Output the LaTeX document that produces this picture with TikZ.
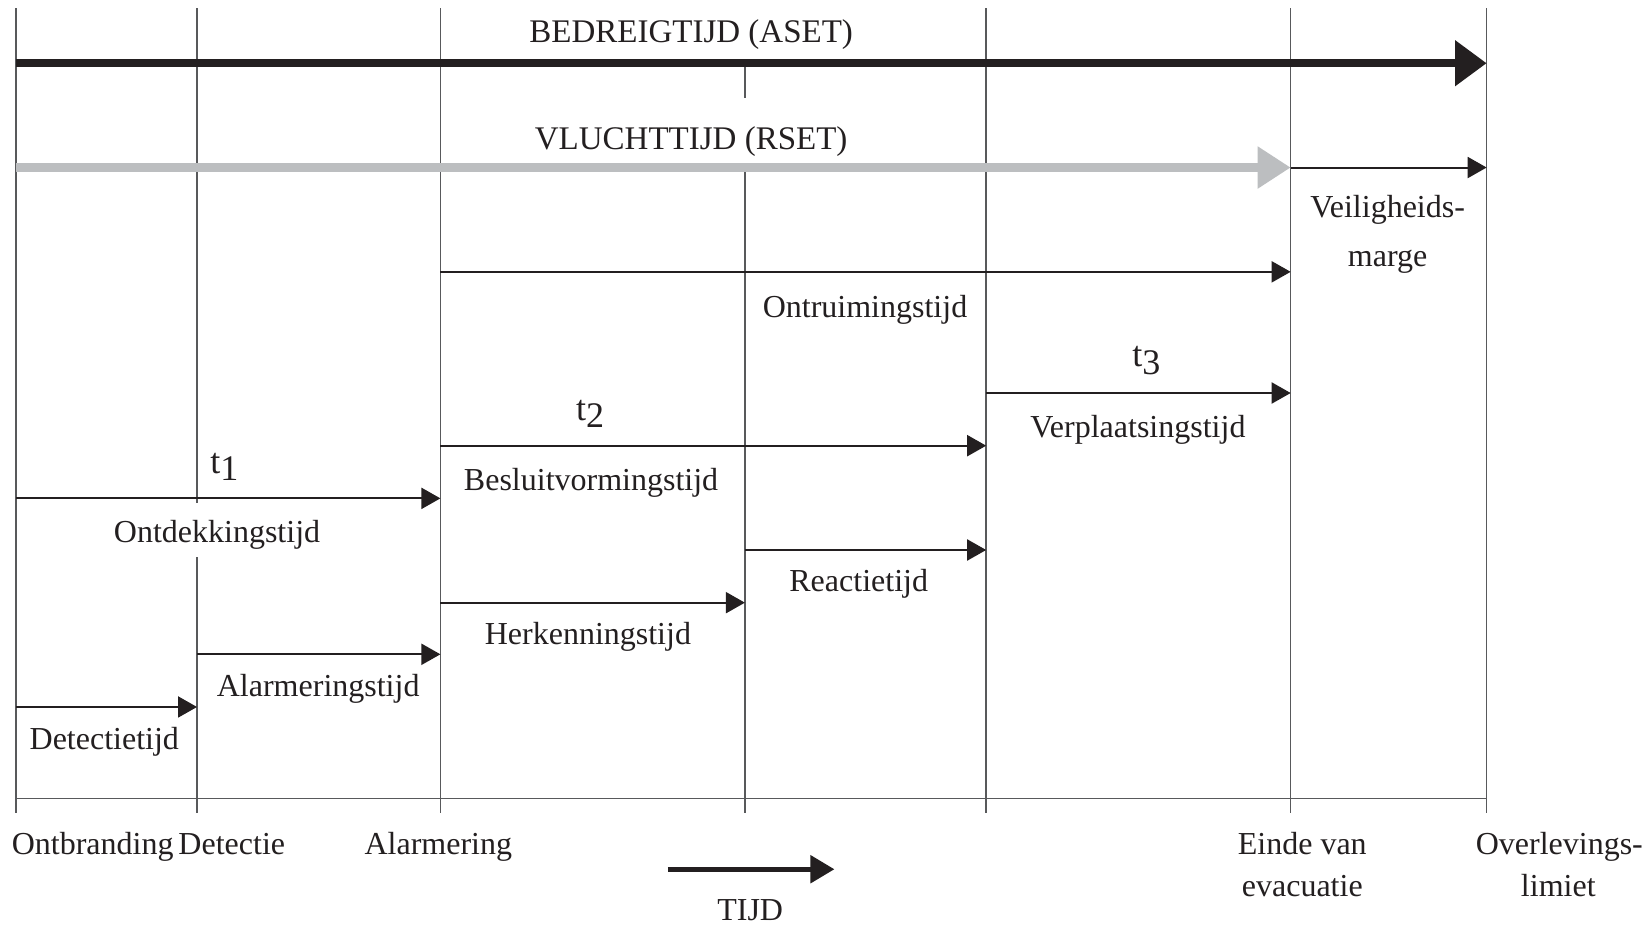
\documentclass[tikz,border=0pt]{standalone}
\usepackage{fontspec}
\setmainfont{Liberation Serif}
\usetikzlibrary{arrows.meta}
\definecolor{ink}{HTML}{231F20}
\definecolor{rulec}{HTML}{58595B}
\definecolor{lgray}{HTML}{BCBEC0}
\newcommand{\tsub}[1]{{\fontsize{18}{20}\selectfont t\raisebox{-0.45ex}{#1}}}
\begin{document}
\begin{tikzpicture}[x=0.5268pt,y=-0.5268pt,
  tline/.style={draw=rulec, line width=0.8pt},
  harrow/.style={draw=ink, line width=1pt, -{Triangle[length=9.5pt,width=10.5pt]}},
  bigarrow/.style={draw=ink, line width=4.2pt, -{Triangle[length=15.8pt,width=22pt]}},
  grayarrow/.style={draw=lgray, line width=4.2pt, -{Triangle[length=16.5pt,width=20pt]}},
  lbl/.style={font=\fontsize{16}{18}\selectfont, text=ink, anchor=base, inner sep=0pt},
  capl/.style={font=\fontsize{16.5}{19}\selectfont, text=ink, anchor=base, inner sep=0pt}]
\useasboundingbox (0,0) rectangle (1567,878);
\fill[white] (0,0) rectangle (1567,878);

% time lines (top / bottom coordinates)
\coordinate (Otop) at (15,8);   \coordinate (Obot) at (15,772);
\coordinate (Dtop) at (187,8);  \coordinate (Dbot) at (187,772);
\coordinate (Dg1) at (187,477); \coordinate (Dg2) at (187,529);
\coordinate (Atop) at (418,8);  \coordinate (Abot) at (418,772);
\coordinate (Ht1) at (707,60);  \coordinate (Ht2) at (707,93);
\coordinate (Htop) at (707,160); \coordinate (Hbot) at (707,772);
\coordinate (Btop) at (936,8);  \coordinate (Bbot) at (936,772);
\coordinate (Etop) at (1225,8); \coordinate (Ebot) at (1225,772);
\coordinate (Ltop) at (1411,8); \coordinate (Lbot) at (1411,772);

\draw[tline] (Otop) -- (Obot);
\draw[tline] (Dtop) -- (Dg1);
\draw[tline] (Dg2) -- (Dbot);
\draw[tline] (Atop) -- (Abot);
\draw[tline] (Ht1) -- (Ht2);
\draw[tline] (Htop) -- (Hbot);
\draw[tline] (Btop) -- (Bbot);
\draw[tline] (Etop) -- (Ebot);
\draw[tline] (Ltop) -- (Lbot);

% bottom axis
\coordinate (axS) at (15,758); \coordinate (axE) at (1411,758);
\draw[tline] (axS) -- (axE);

% ASET and RSET
\coordinate (asetS) at (15,60);  \coordinate (asetE) at (1411,60);
\draw[bigarrow] (asetS) -- (asetE);
\coordinate (rsetS) at (15,159); \coordinate (rsetE) at (1225,159);
\draw[grayarrow] (rsetS) -- (rsetE);
\coordinate (margE) at (1411,159);
\draw[harrow] (rsetE) -- (margE);

\node[capl] (aset) at (656,40) {BEDREIGTIJD (ASET)};
\node[capl] (rset) at (656,142) {VLUCHTTIJD (RSET)};
\node[lbl] (veil) at (1317,206) {Veiligheids-};
\node[lbl] (marge) at (1317,253) {marge};

% component arrows
\coordinate (ontrS) at (418,258); \coordinate (ontrE) at (1225,258);
\draw[harrow] (ontrS) -- (ontrE);
\node[lbl] (ontr) at (821,301) {Ontruimingstijd};

\coordinate (verpS) at (936,373); \coordinate (verpE) at (1225,373);
\draw[harrow] (verpS) -- (verpE);
\node[lbl] (t3) at (1088,348) {\tsub{3}};
\node[lbl] (verp) at (1080,415) {Verplaatsingstijd};

\coordinate (besS) at (418,423); \coordinate (besE) at (936,423);
\draw[harrow] (besS) -- (besE);
\node[lbl] (t2) at (560,399) {\tsub{2}};
\node[lbl] (bes) at (561,466) {Besluitvormingstijd};

\coordinate (ontdS) at (15,473); \coordinate (ontdE) at (418,473);
\draw[harrow] (ontdS) -- (ontdE);
\node[lbl] (t1) at (213,449) {\tsub{1}};
\node[lbl] (ontd) at (206,515) {Ontdekkingstijd};

\coordinate (reacS) at (707,522); \coordinate (reacE) at (936,522);
\draw[harrow] (reacS) -- (reacE);
\node[lbl] (reac) at (815,561) {Reactietijd};

\coordinate (herkS) at (418,572); \coordinate (herkE) at (707,572);
\draw[harrow] (herkS) -- (herkE);
\node[lbl] (herk) at (558,612) {Herkenningstijd};

\coordinate (alS) at (187,621); \coordinate (alE) at (418,621);
\draw[harrow] (alS) -- (alE);
\node[lbl] (alt) at (302,661) {Alarmeringstijd};

\coordinate (detS) at (15,671); \coordinate (detE) at (187,671);
\draw[harrow] (detS) -- (detE);
\node[lbl] (det) at (99,711) {Detectietijd};

% axis labels
\node[lbl] (ontb) at (88,811) {Ontbranding};
\node[lbl] (detl) at (220,811) {Detectie};
\node[lbl] (alarm) at (416,811) {Alarmering};
\node[lbl] (einde) at (1236,811) {Einde van};
\node[lbl] (evac) at (1236,851) {evacuatie};
\node[lbl] (overl) at (1480,811) {Overlevings-};
\node[lbl] (limiet) at (1479,851) {limiet};

% time arrow
\coordinate (tijdS) at (634,825); \coordinate (tijdE) at (792,825);
\draw[draw=ink, line width=2.6pt, -{Triangle[length=12pt,width=13.5pt]}] (tijdS) -- (tijdE);
\node[lbl] (tijd) at (712,874) {TIJD};
\end{tikzpicture}
\end{document}
